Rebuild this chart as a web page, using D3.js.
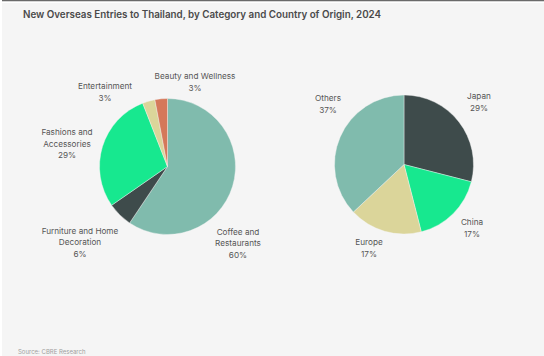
<!DOCTYPE html>
<html><head><meta charset="utf-8">
<script src="https://cdn.jsdelivr.net/npm/d3@7/dist/d3.min.js"></script>
<style>html,body{margin:0;padding:0;background:#f5f5f5;}svg{display:block;}</style>
</head><body>
<svg id="c" width="544" height="356"></svg>
<script>
const title = "New Overseas Entries to Thailand, by Category and Country of Origin, 2024";
const source = "Source: CBRE Research";

const categoryNames = ["Coffee and Restaurants", "Furniture and Home Decoration", "Fashions and Accessories", "Entertainment", "Beauty and Wellness"];
const categoryValues = [60, 6, 29, 3, 3];
const categoryLines = [["Coffee and", "Restaurants"], ["Furniture and Home", "Decoration"], ["Fashions and", "Accessories"], ["Entertainment"], ["Beauty and Wellness"]];
const categoryColors = ["#80bbad", "#3e4b4b", "#17e88f", "#dbd59a", "#d5785a"];

const countryNames = ["Japan", "China", "Europe", "Others"];
const countryValues = [29, 17, 17, 37];
const countryColors = ["#3e4b4b", "#17e88f", "#dbd59a", "#80bbad"];

const svg = d3.select("#c");
svg.append("rect").attr("width", 544).attr("height", 356).attr("fill", "#f5f5f5");
svg.append("rect").attr("x", 0).attr("y", 0).attr("width", 544).attr("height", 1.5).attr("fill", "#6a6a6a");
svg.append("rect").attr("x", 0).attr("y", 1.5).attr("width", 544).attr("height", 1.5).attr("fill", "#ffffff");
svg.append("rect").attr("x", 0).attr("y", 0).attr("width", 2).attr("height", 356).attr("fill", "#ffffff");

svg.append("text").attr("x", 23).attr("y", 17.5)
  .attr("font-family", "Inter, 'Open Sans', sans-serif").attr("font-size", 9.8).attr("font-weight", 600)
  .attr("fill", "#4a4a4a").text(title);

svg.append("text").attr("x", 18).attr("y", 353.5)
  .attr("font-family", "Inter, sans-serif").attr("font-size", 6)
  .attr("fill", "#a0a0a0").text(source);

function drawPie(cx, cy, r, values, colors, labels) {
  const pie = d3.pie().sort(null).value(d => d)(values);
  const arc = d3.arc().innerRadius(0).outerRadius(r);
  const g = svg.append("g").attr("transform", `translate(${cx},${cy})`);
  g.selectAll("path").data(pie).join("path")
    .attr("d", arc).attr("fill", (d, i) => colors[i])
    .attr("stroke", "#f5f5f5").attr("stroke-width", 0.4);
  labels.forEach(l => {
    const t = svg.append("text").attr("text-anchor", "middle")
      .attr("font-family", "Inter, sans-serif").attr("font-size", 8.2).attr("fill", "#555");
    l.lines.forEach((s, j) => {
      t.append("tspan").attr("x", l.x).attr("y", l.y + j * 11.5).text(s);
    });
  });
}

const leftLabels = categoryNames.map((n, i) => ({ lines: categoryLines[i].concat([categoryValues[i] + "%"]) }));
const leftPos = [[238, 234.5], [80, 233.5], [67, 135], [105, 89], [195, 79]];
leftLabels.forEach((l, i) => { l.x = leftPos[i][0]; l.y = leftPos[i][1]; });
drawPie(167.5, 166.5, 68, categoryValues, categoryColors, leftLabels);

const rightPos = [[479, 99], [472, 225], [369, 245], [328, 101]];
const rightLabels = countryNames.map((n, i) => ({ lines: [n, countryValues[i] + "%"], x: rightPos[i][0], y: rightPos[i][1] }));
drawPie(404, 164.5, 69.5, countryValues, countryColors, rightLabels);
</script>
</body></html>
